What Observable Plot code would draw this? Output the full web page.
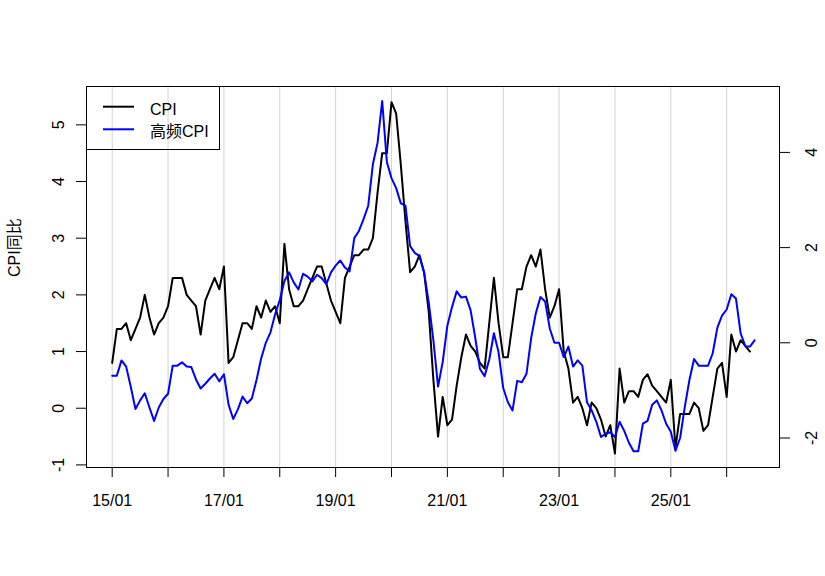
<!DOCTYPE html>
<html>
<head>
<meta charset="utf-8">
<script src="https://cdn.jsdelivr.net/npm/d3@7"></script>
<script src="https://cdn.jsdelivr.net/npm/@observablehq/plot@0.6"></script>
<style>
html, body { margin: 0; padding: 0; background: #fff; overflow: hidden; }
#wrap { position: relative; width: 825px; height: 576px; }
#wrap > svg { display: block; }
#legend { position: absolute; left: 86px; top: 86px; width: 134px; height: 64px; box-sizing: border-box; border: 1px solid #000; }
</style>
</head>
<body>
<div id="wrap"></div>
<script>
// Monthly series starting 2015-01 (month index 0)
const cpi = [
  0.8, 1.4, 1.4, 1.5, 1.2, 1.4, 1.6, 2.0, 1.6, 1.3, 1.5, 1.6,
  1.8, 2.3, 2.3, 2.3, 2.0, 1.9, 1.8, 1.3, 1.9, 2.1, 2.3, 2.1,
  2.5, 0.8, 0.9, 1.2, 1.5, 1.5, 1.4, 1.8, 1.6, 1.9, 1.7, 1.8,
  1.5, 2.9, 2.1, 1.8, 1.8, 1.9, 2.1, 2.3, 2.5, 2.5, 2.2, 1.9,
  1.7, 1.5, 2.3, 2.5, 2.7, 2.7, 2.8, 2.8, 3.0, 3.8, 4.5, 4.5,
  5.4, 5.2, 4.3, 3.3, 2.4, 2.5, 2.7, 2.4, 1.7, 0.5, -0.5, 0.2,
  -0.3, -0.2, 0.4, 0.9, 1.3, 1.1, 1.0, 0.8, 0.7, 1.5, 2.3, 1.5,
  0.9, 0.9, 1.5, 2.1, 2.1, 2.5, 2.7, 2.5, 2.8, 2.1, 1.6, 1.8,
  2.1, 1.0, 0.7, 0.1, 0.2, 0.0, -0.3, 0.1, 0.0, -0.2, -0.5, -0.3,
  -0.8, 0.7, 0.1, 0.3, 0.3, 0.2, 0.5, 0.6, 0.4, 0.3, 0.2, 0.1,
  0.5, -0.7, -0.1, -0.1, -0.1, 0.1, 0.0, -0.4, -0.3, 0.2, 0.7, 0.8,
  0.2, 1.3, 1.0, 1.2, 1.1, 1.0
];
const hfCpi = [
  -0.69, -0.69, -0.37, -0.5, -0.93, -1.39, -1.21, -1.06, -1.36, -1.64, -1.36, -1.18,
  -1.07, -0.48, -0.48, -0.41, -0.5, -0.51, -0.77, -0.96, -0.86, -0.75, -0.65, -0.81,
  -0.66, -1.3, -1.6, -1.4, -1.13, -1.27, -1.17, -0.78, -0.33, 0.0, 0.22, 0.6,
  0.9, 1.3, 1.48, 1.27, 1.12, 1.45, 1.39, 1.29, 1.43, 1.36, 1.23, 1.48,
  1.62, 1.73, 1.58, 1.5, 2.2, 2.35, 2.6, 2.88, 3.75, 4.2, 5.08, 3.8,
  3.46, 3.25, 2.93, 2.88, 2.03, 1.89, 1.82, 1.48, 0.85, 0.05, -0.92, -0.4,
  0.36, 0.75, 1.08, 0.95, 0.97, 0.68, 0.1, -0.55, -0.7, -0.35, 0.2, -0.2,
  -0.95, -1.25, -1.42, -0.8, -0.83, -0.65, 0.1, 0.62, 0.96, 0.87, 0.3, 0.0,
  0.0, -0.3, -0.08, -0.5, -0.37, -0.48, -1.25, -1.42, -1.66, -1.98, -1.91, -1.88,
  -1.98, -1.66, -1.85, -2.1, -2.28, -2.28, -1.7, -1.64, -1.3, -1.21, -1.42, -1.7,
  -1.87, -2.27, -2.0, -1.35, -0.78, -0.34, -0.48, -0.48, -0.48, -0.22, 0.32, 0.57,
  0.7, 1.02, 0.93, 0.2, -0.07, -0.08, 0.05
];
const xTickLabels = ["15/01", "", "17/01", "", "19/01", "", "21/01", "", "23/01", "", "25/01", ""];
const leftTicks = [-1, 0, 1, 2, 3, 4, 5];
const rightTicks = [-2, 0, 2, 4];
const seriesNames = ["CPI", "高频CPI"];
const seriesColors = ["#000000", "#0000ff"];
const yLabel = "CPI同比";

const FONT = '"Liberation Sans", Arial, "Noto Sans CJK SC", sans-serif';
const leftDomain = [-1.046, 5.677];
const rightDomain = [-2.62, 5.385];
const xDomain = [-5.52, 143.35];

const toLeft = r => leftDomain[0] + (r - rightDomain[0]) * (leftDomain[1] - leftDomain[0]) / (rightDomain[1] - rightDomain[0]);
const fromLeft = v => rightDomain[0] + (v - leftDomain[0]) * (rightDomain[1] - rightDomain[0]) / (leftDomain[1] - leftDomain[0]);

const cpiData = cpi.map((v, i) => ({i, v}));
const hfData = hfCpi.map((v, i) => ({i, v: toLeft(v)}));
const yearTicks = xTickLabels.map((_, k) => k * 12);

const chart = Plot.plot({
  width: 825,
  height: 576,
  marginLeft: 86,
  marginRight: 46,
  marginTop: 86,
  marginBottom: 109,
  style: {fontSize: "16px", fontFamily: FONT, color: "#000", background: "#fff", overflow: "visible"},
  x: {type: "linear", domain: xDomain},
  y: {type: "linear", domain: leftDomain},
  marks: [
    Plot.ruleX(yearTicks, {stroke: "#d3d3d3", strokeWidth: 1}),
    Plot.line(cpiData, {x: "i", y: "v", stroke: seriesColors[0], strokeWidth: 2}),
    Plot.line(hfData, {x: "i", y: "v", stroke: seriesColors[1], strokeWidth: 2}),
    Plot.frame({stroke: "#000", strokeWidth: 1}),
    Plot.axisX(yearTicks, {anchor: "bottom", tickSize: 10, tickPadding: 17, tickFormat: d => xTickLabels[Math.round(d / 12)], label: null}),
    Plot.axisY(leftTicks, {anchor: "left", tickSize: 10, tickRotate: -90, tickPadding: 13, tickFormat: d => String(d), label: null}),
    Plot.axisY(rightTicks.map(toLeft), {anchor: "right", tickSize: 10, tickRotate: -90, tickPadding: 27, tickFormat: v => String(Math.round(fromLeft(v))), label: null}),
    Plot.text([yLabel], {frameAnchor: "left", dx: -67, rotate: -90, lineAnchor: "bottom", fontSize: 16})
  ]
});

const wrap = document.getElementById("wrap");
wrap.appendChild(chart);

// Legend (top-left inside the plot frame, like R's legend("topleft"))
const lg = d3.select(wrap).append("div").attr("id", "legend");
const lsvg = lg.append("svg")
  .attr("width", 132).attr("height", 62)
  .style("position", "absolute").style("left", "0px").style("top", "0px").style("overflow", "visible")
  .style("font-family", FONT).style("font-size", "16px");
const lineY = [19.7, 42.3];
const textY = [28, 50];
seriesNames.forEach((name, k) => {
  lsvg.append("line").attr("x1", 16).attr("x2", 47).attr("y1", lineY[k]).attr("y2", lineY[k])
    .attr("stroke", seriesColors[k]).attr("stroke-width", 2);
  lsvg.append("text").attr("x", 63).attr("y", textY[k]).attr("fill", "#000").text(name);
});
</script>
</body>
</html>
